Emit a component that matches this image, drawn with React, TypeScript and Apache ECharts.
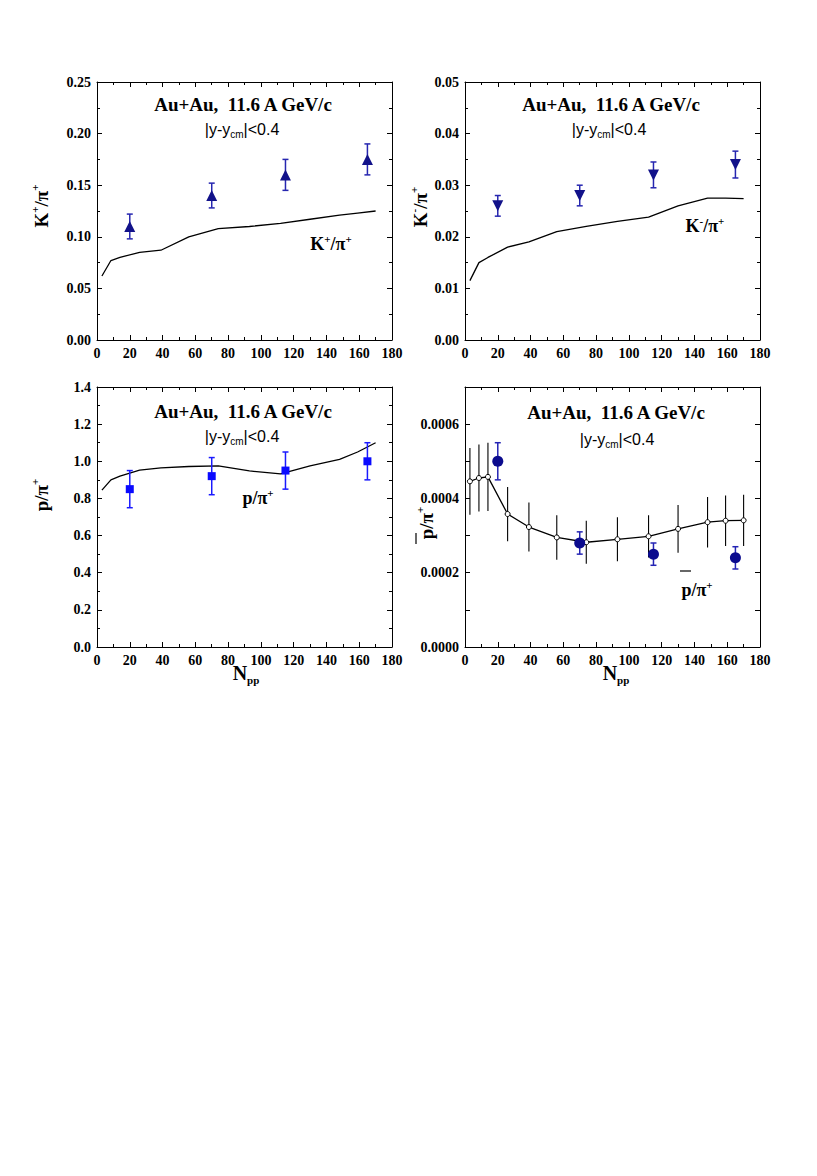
import React, { useEffect, useRef } from "react";
import * as echarts from "echarts";

// ---- data ----
const npp = [20, 70, 115, 165];
const kPlus = [0.11, 0.14, 0.16, 0.175];
const kPlusErr = [0.012, 0.012, 0.015, 0.015];
const kMinus = [0.026, 0.028, 0.032, 0.034];
const kMinusErr = [0.002, 0.002, 0.0025, 0.0026];
const pRatio = [0.85, 0.92, 0.95, 1.0];
const pRatioErr = [0.1, 0.1, 0.1, 0.1];
const pbarRatio = [0.0005, 0.00028, 0.00025, 0.00024];
const pbarRatioErr = [0.00005, 0.00003, 0.00003, 0.00003];

const modelX = [3, 8.5, 14, 26, 39, 56, 74, 93, 112, 130, 148, 159, 170];
const kPlusModel = [0.062, 0.077, 0.08, 0.085, 0.087, 0.1, 0.108, 0.11, 0.113, 0.117, 0.121, 0.123, 0.125];
const kMinusModel = [0.0115, 0.015, 0.016, 0.018, 0.019, 0.021, 0.022, 0.023, 0.0238, 0.026, 0.0275, 0.0275, 0.0274];
const pModel = [0.845, 0.9, 0.92, 0.952, 0.965, 0.972, 0.975, 0.948, 0.932, 0.975, 1.01, 1.05, 1.1];
const pbarModel = [0.000446, 0.000455, 0.000458, 0.000358, 0.000323, 0.000295, 0.000282, 0.00029, 0.000298, 0.000318, 0.000336, 0.00034, 0.000341];
const pbarModelErr = [0.00009, 0.00009, 0.000092, 0.000073, 0.000066, 0.00006, 0.000058, 0.000059, 0.000057, 0.000064, 0.000068, 0.000068, 0.000069];

const xMin = 0;
const xMax = 180;
const xStep = 20;

const SERIF = '"Liberation Serif", "Times New Roman", serif';
const SANS = '"Liberation Sans", Arial, sans-serif';

type Panel = {
  grid: { left: number; top: number; width: number; height: number };
  yMax: number;
  yStep: number;
  yMinor: number;
  digits: number;
  labelEvery?: number;
  model: number[];
  modelErr?: number[];
  data: number[];
  dataErr: number[];
  symbol: string;
  symbolSize: number;
  symbolRotate: number;
  color: string;
  errColor: string;
};

const panels: Panel[] = [
  {
    grid: { left: 97, top: 82, width: 295, height: 258 },
    yMax: 0.25, yStep: 0.05, yMinor: 2, digits: 2,
    model: kPlusModel, data: kPlus, dataErr: kPlusErr,
    symbol: "triangle", symbolSize: 11, symbolRotate: 0, color: "#12128a", errColor: "#2626b0",
  },
  {
    grid: { left: 465, top: 82, width: 295, height: 258 },
    yMax: 0.05, yStep: 0.01, yMinor: 2, digits: 2,
    model: kMinusModel, data: kMinus, dataErr: kMinusErr,
    symbol: "triangle", symbolSize: 11, symbolRotate: 180, color: "#12128a", errColor: "#2626b0",
  },
  {
    grid: { left: 97, top: 387, width: 295, height: 260 },
    yMax: 1.4, yStep: 0.2, yMinor: 2, digits: 1,
    model: pModel, data: pRatio, dataErr: pRatioErr,
    symbol: "rect", symbolSize: 8, symbolRotate: 0, color: "#0a0aff", errColor: "#1a1aff",
  },
  {
    grid: { left: 465, top: 387, width: 295, height: 260 },
    yMax: 0.0007, yStep: 0.0001, yMinor: 0, digits: 4, labelEvery: 2,
    model: pbarModel, modelErr: pbarModelErr, data: pbarRatio, dataErr: pbarRatioErr,
    symbol: "circle", symbolSize: 11, symbolRotate: 0, color: "#0b0b8e", errColor: "#2424b4",
  },
];

function errRender(color: string, cap: number, lw: number) {
  return (params: any, api: any) => {
    const x = api.value(0);
    const lo = api.value(1);
    const hi = api.value(2);
    const a = api.coord([x, lo]);
    const b = api.coord([x, hi]);
    const style = { stroke: color, lineWidth: lw, fill: "none" };
    const children: any[] = [
      { type: "line", shape: { x1: a[0], y1: a[1], x2: b[0], y2: b[1] }, style },
    ];
    if (cap > 0) {
      children.push({ type: "line", shape: { x1: a[0] - cap, y1: a[1], x2: a[0] + cap, y2: a[1] }, style });
      children.push({ type: "line", shape: { x1: b[0] - cap, y1: b[1], x2: b[0] + cap, y2: b[1] }, style });
    }
    return { type: "group", children };
  };
}

const tickLabelStyle = {
  fontFamily: SERIF,
  fontWeight: "bold" as const,
  fontSize: 14,
  color: "#000",
};

function buildOption() {
  const grid: any[] = [];
  const xAxis: any[] = [];
  const yAxis: any[] = [];
  const series: any[] = [];

  panels.forEach((p, g) => {
    grid.push({ ...p.grid, containLabel: false, outerBoundsMode: "none" });
    const common = {
      type: "value",
      gridIndex: g,
      splitLine: { show: false },
      axisLine: { show: true, onZero: false, lineStyle: { color: "#000", width: 1 } },
      axisTick: { show: true, inside: true, length: 5, lineStyle: { color: "#000", width: 1 } },
    };
    const xBase = {
      ...common,
      min: xMin,
      max: xMax,
      interval: xStep,
      minorTick: { show: true, splitNumber: 2, length: 3, lineStyle: { color: "#000", width: 1 } },
    };
    xAxis.push({ ...xBase, position: "bottom", axisLabel: { show: true, margin: 6, ...tickLabelStyle } });
    xAxis.push({ ...xBase, position: "top", axisLabel: { show: false } });

    const every = p.labelEvery || 1;
    const yBase = {
      ...common,
      min: 0,
      max: p.yMax,
      interval: p.yStep,
      minorTick: p.yMinor
        ? { show: true, splitNumber: p.yMinor, length: 3, lineStyle: { color: "#000", width: 1 } }
        : { show: false },
    };
    yAxis.push({
      ...yBase,
      position: "left",
      axisLabel: {
        show: true,
        margin: 6,
        ...tickLabelStyle,
        formatter: (v: number) => {
          const k = Math.round(v / p.yStep);
          if (k % every !== 0) return "";
          return v.toFixed(p.digits);
        },
      },
    });
    yAxis.push({ ...yBase, position: "right", axisLabel: { show: false } });

    const xi = 2 * g;
    const yi = 2 * g;

    if (p.modelErr) {
      series.push({
        type: "custom",
        xAxisIndex: xi,
        yAxisIndex: yi,
        renderItem: errRender("#000", 0, 1.1),
        encode: { x: 0, y: [1, 2] },
        data: modelX.map((x, i) => [x, p.model[i] - p.modelErr![i], p.model[i] + p.modelErr![i]]),
        z: 1,
        silent: true,
      });
    }

    series.push({
      type: "line",
      xAxisIndex: xi,
      yAxisIndex: yi,
      data: modelX.map((x, i) => [x, p.model[i]]),
      symbol: p.modelErr ? "circle" : "none",
      showSymbol: !!p.modelErr,
      symbolSize: 5,
      itemStyle: { color: "#fff", borderColor: "#000", borderWidth: 1 },
      lineStyle: { color: "#000", width: 1.3 },
      z: 2,
      silent: true,
    });

    series.push({
      type: "custom",
      xAxisIndex: xi,
      yAxisIndex: yi,
      renderItem: errRender(p.errColor, 3, 1.5),
      encode: { x: 0, y: [1, 2] },
      data: npp.map((x, i) => [x, p.data[i] - p.dataErr[i], p.data[i] + p.dataErr[i]]),
      z: 3,
      silent: true,
    });

    series.push({
      type: "scatter",
      xAxisIndex: xi,
      yAxisIndex: yi,
      data: npp.map((x, i) => [x, p.data[i]]),
      symbol: p.symbol,
      symbolSize: p.symbolSize,
      symbolRotate: p.symbolRotate,
      itemStyle: { color: p.color, opacity: 1 },
      z: 4,
      silent: true,
    });
  });

  const rich = (main: number, sup: number) => ({
    m: { fontFamily: SERIF, fontWeight: "bold", fontSize: main, lineHeight: main + 4, fill: "#000" },
    s: { fontFamily: SERIF, fontWeight: "bold", fontSize: sup, lineHeight: sup, verticalAlign: "top", fill: "#000" },
    b: { fontFamily: SERIF, fontWeight: "bold", fontSize: sup, lineHeight: sup, verticalAlign: "bottom", fill: "#000" },
    n: { fontFamily: SANS, fontSize: 16, lineHeight: 20, fill: "#000" },
    c: { fontFamily: SANS, fontSize: 10, lineHeight: 10, verticalAlign: "bottom", fill: "#000" },
  });

  const text = (x: number, y: number, t: string, main = 18, sup = 11, rotation = 0) => ({
    type: "text",
    x,
    y,
    rotation,
    silent: true,
    z: 10,
    style: {
      text: t,
      rich: rich(main, sup),
      fontFamily: SERIF,
      fontWeight: "bold",
      fontSize: main,
      align: "center",
      verticalAlign: "middle",
      fill: "#000",
    },
  });

  const titleText = "{m|Au+Au,  11.6 A GeV/c}";
  const cutText = "{n||y-y}{c|cm}{n||<0.4}";
  const ROT = Math.PI / 2;

  const graphic: any[] = [
    // titles
    text(243, 104, titleText, 19),
    text(611, 104, titleText, 19),
    text(243, 411, titleText, 19),
    text(616, 412, titleText, 19),
    // rapidity cut
    text(242, 129, cutText),
    text(609, 129, cutText),
    text(242, 436, cutText),
    text(617, 439, cutText),
    // curve labels
    text(331, 244, "{m|K}{s|+}{m|/π}{s|+}", 18, 11),
    text(705, 226, "{m|K}{s|-}{m|/π}{s|+}", 18, 11),
    text(258, 498, "{m|p/π}{s|+}", 18, 11),
    text(697, 590, "{m|p/π}{s|+}", 18, 11),
    // y-axis names
    text(41, 206, "{m|K}{s|+}{m|/π}{s|+}", 19, 11, ROT),
    text(420, 207, "{m|K}{s|-}{m|/π}{s|+}", 19, 11, ROT),
    text(41, 495, "{m|p/π}{s|+}", 19, 11, ROT),
    text(426, 523, "{m|p/π}{s|+}", 19, 11, ROT),
    // x-axis names
    text(246, 673, "{m|N}{b|pp}", 20, 11),
    text(616, 673, "{m|N}{b|pp}", 20, 11),
    // antiproton bars
    { type: "line", silent: true, shape: { x1: 680, y1: 571, x2: 691, y2: 571 }, style: { stroke: "#000", lineWidth: 1.2 } },
    { type: "line", silent: true, shape: { x1: 416, y1: 533, x2: 416, y2: 544 }, style: { stroke: "#000", lineWidth: 1.2 } },
  ];

  return {
    animation: false,
    backgroundColor: "#fff",
    grid,
    xAxis,
    yAxis,
    series,
    graphic,
  };
}

export default function App() {
  const ref = useRef<HTMLDivElement>(null);
  useEffect(() => {
    if (!ref.current) return;
    const chart = echarts.init(ref.current, undefined, { renderer: "svg" });
    chart.setOption(buildOption() as any);
    return () => chart.dispose();
  }, []);
  return (
    <div
      ref={ref}
      style={{ position: "absolute", left: 0, top: 0, width: 817, height: 1176, background: "#fff" }}
    />
  );
}
